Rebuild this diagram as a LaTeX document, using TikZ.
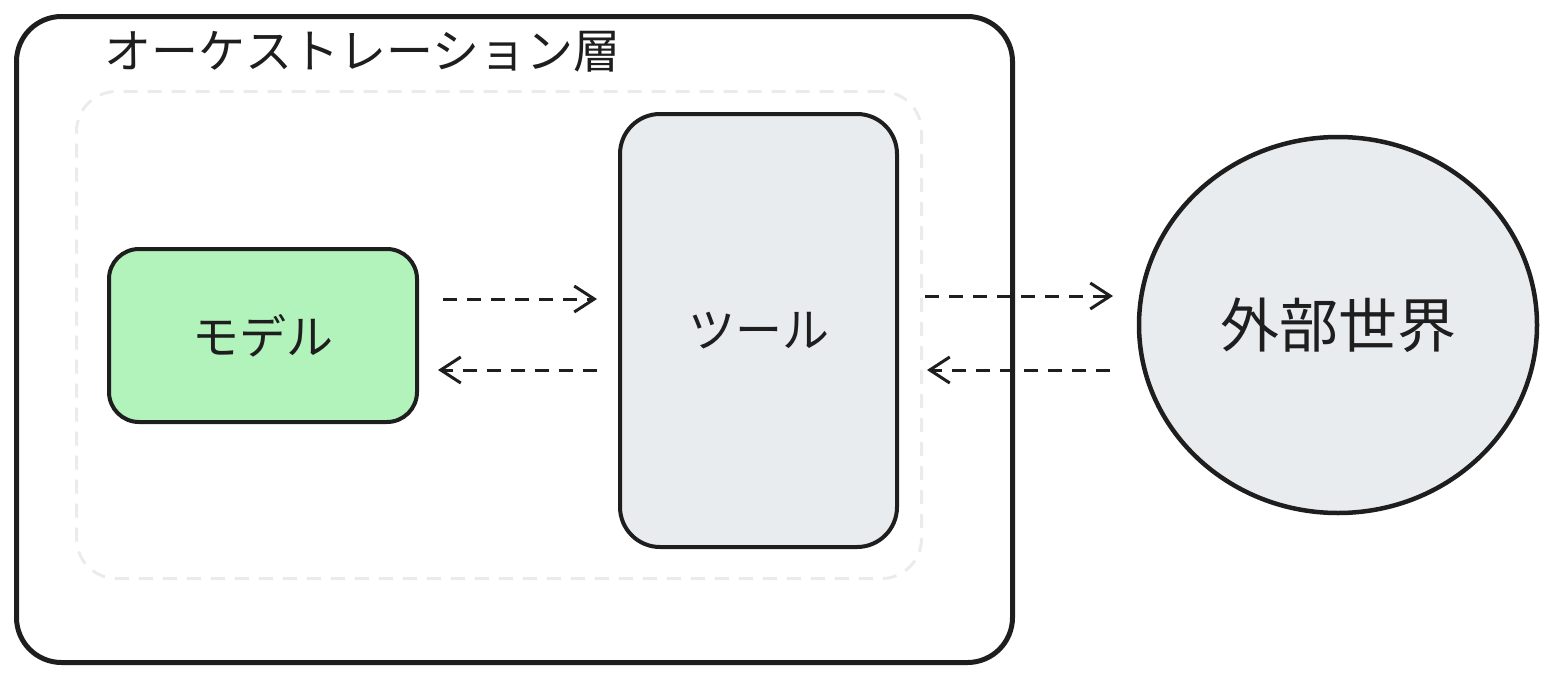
\documentclass[tikz,border=0pt]{standalone}
\usepackage{fontspec}
\setmainfont{Noto Sans CJK JP}
\usetikzlibrary{arrows.meta,shapes.geometric}
\definecolor{grn}{HTML}{B2F2BB}
\definecolor{gry}{HTML}{E9ECEF}
\definecolor{ink}{HTML}{1E1E1E}
\tikzset{
  box/.style={draw=ink,line width=4pt,rounded corners=30pt},
  flow/.style={draw=ink,line width=3pt,dash pattern=on 14pt off 10pt,-{Straight Barb[length=20pt,width=26pt,line width=3pt]}},
  lbl/.style={font=\fontsize{47}{54}\selectfont,text=ink}
}
\begin{document}
\begin{tikzpicture}[x=1pt,y=-1pt]
\useasboundingbox (0,0) rectangle (1550,672);
\node[box,line width=5pt,rounded corners=45pt,minimum width=996pt,minimum height=646pt,anchor=north west] (outer) at (14,14) {};
\node[lbl,anchor=west,inner sep=0pt] (title) at (104,52) {オーケストレーション層};
\node[draw=gry,line width=3pt,dash pattern=on 14pt off 10pt,rounded corners=40pt,minimum width=845pt,minimum height=487pt,anchor=north west] (orch) at (75,90) {};
\node[box,fill=grn,minimum width=308pt,minimum height=173pt,anchor=north west] (model) at (107,247) {};
\node[lbl] at (model.center) {モデル};
\node[box,fill=gry,rounded corners=40pt,minimum width=277pt,minimum height=433pt,anchor=north west] (tool) at (618,112) {};
\node[lbl] at (tool.center) {ツール};
\node[draw=ink,line width=4.5pt,fill=gry,ellipse,minimum width=398pt,minimum height=376pt,inner sep=0pt] (world) at (1338,325) {};
\node[font=\fontsize{59}{66}\selectfont,text=ink] at (world.center) {外部世界};
\coordinate (a1) at (443,299); \coordinate (a2) at (597,299);
\coordinate (b1) at (597,370); \coordinate (b2) at (438,370);
\coordinate (c1) at (925,296); \coordinate (c2) at (1113,296);
\coordinate (d1) at (1110,370); \coordinate (d2) at (927,370);
\draw[flow] (a1) -- (a2);
\draw[flow] (b1) -- (b2);
\draw[flow] (c1) -- (c2);
\draw[flow] (d1) -- (d2);
\end{tikzpicture}
\end{document}
